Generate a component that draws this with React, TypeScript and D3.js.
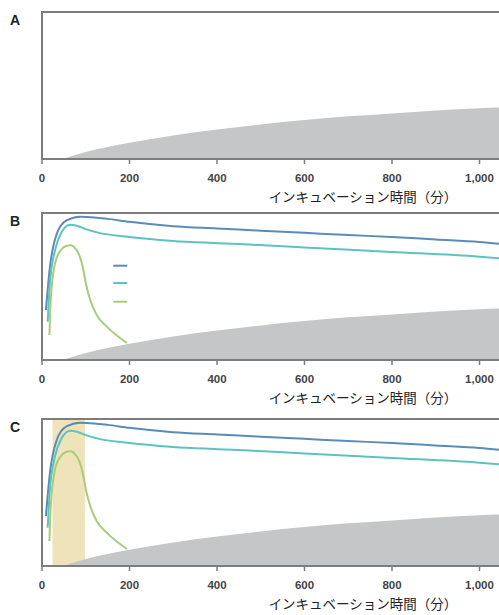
import React from "react";
import * as d3 from "d3";

const xTicks = [0, 200, 400, 600, 800, 1000];
const xTickLabels = ["0", "200", "400", "600", "800", "1,000"];
const panelLabels = ["A", "B", "C"];
const axisTitle = "インキュベーション時間（分）";

const greyT = [48, 60, 80, 100, 150, 200, 300, 400, 500, 600, 700, 800, 900, 1000, 1050];
const greyV = [0, 1.2, 3, 4.8, 8.2, 11, 16, 20, 23.5, 26.5, 29, 31, 33, 34.5, 35];

const blueT = [9, 18, 34, 56, 87, 120, 150, 200, 300, 400, 500, 600, 700, 800, 900, 1000, 1050];
const blueV = [34, 63, 86, 95, 97.5, 97, 96, 94, 91, 89.5, 88, 86.5, 85, 83.7, 82, 80.3, 79];

const tealT = [13, 18, 30, 45, 64, 80, 100, 133, 190, 300, 400, 475, 600, 800, 1000, 1050];
const tealV = [26, 52, 75, 87, 92, 91.3, 89, 86.3, 84, 81, 79.5, 78.5, 76.5, 73.5, 70.3, 69];

const greenT = [17, 20, 30, 44, 55, 66, 76, 85, 93, 101, 110, 125, 148, 194];
const greenV = [17, 41, 66, 75, 77.5, 78, 76, 71.5, 63.5, 51, 41, 30.6, 22.7, 11.6];

const bandRange = [24, 98];

const panels = [
  { top: 12, bottom: 159, lines: false, band: false },
  { top: 213, bottom: 360, lines: true, band: false },
  { top: 419, bottom: 566, lines: true, band: true },
];

const COLORS = { blue: "#5a8db6", teal: "#5cc3c1", green: "#a8cc7c", grey: "#c5c6c8", band: "#efe3b9", frame: "#7d7d7d" };

function zip(t: number[], v: number[]) {
  return t.map((d, i) => [d, v[i]] as [number, number]);
}

export default function App() {
  const x = d3.scaleLinear().domain([0, 1050]).range([42, 42 + 1050 * 0.4375]);
  return (
    <svg width={499} height={615} style={{ position: "absolute", left: 0, top: 0, background: "#fff" }}>
      {panels.map((p, pi) => {
        const y = d3.scaleLinear().domain([0, 100]).range([p.bottom, p.top]);
        const area = d3
          .area<[number, number]>()
          .x((d) => x(d[0]))
          .y0(y(0))
          .y1((d) => y(d[1]))
          .curve(d3.curveMonotoneX);
        const line = d3
          .line<[number, number]>()
          .x((d) => x(d[0]))
          .y((d) => y(d[1]))
          .curve(d3.curveMonotoneX);
        const series = [
          { d: zip(blueT, blueV), c: COLORS.blue },
          { d: zip(tealT, tealV), c: COLORS.teal },
          { d: zip(greenT, greenV), c: COLORS.green },
        ];
        return (
          <g key={pi}>
            {p.band && (
              <rect
                x={x(bandRange[0])}
                y={p.top}
                width={x(bandRange[1]) - x(bandRange[0])}
                height={p.bottom - p.top}
                fill={COLORS.band}
              />
            )}
            <path d={area(zip(greyT, greyV)) || ""} fill={COLORS.grey} />
            {p.lines &&
              series.map((s, si) => (
                <path key={si} d={line(s.d) || ""} fill="none" stroke={s.c} strokeWidth={2} />
              ))}
            {pi === 1 &&
              series.map((s, si) => (
                <line
                  key={"lg" + si}
                  x1={x(163)}
                  x2={x(195)}
                  y1={[265.7, 283, 301.7][si]}
                  y2={[265.7, 283, 301.7][si]}
                  stroke={s.c}
                  strokeWidth={2}
                />
              ))}
            <path
              d={`M${x(1100)},${p.top}H${x(0)}V${p.bottom}H${x(1100)}`}
              fill="none"
              stroke={COLORS.frame}
              strokeWidth={2}
            />
            {xTicks.map((t, ti) => (
              <g key={ti}>
                <line x1={x(t)} x2={x(t)} y1={p.bottom} y2={p.bottom + 5} stroke={COLORS.frame} strokeWidth={1.5} />
                <text
                  x={x(t)}
                  y={p.bottom + 23}
                  textAnchor="middle"
                  fontFamily="'Liberation Sans', Arial, sans-serif"
                  fontWeight="bold"
                  fontSize={11.5}
                  fill="#444"
                >
                  {xTickLabels[ti]}
                </text>
              </g>
            ))}
            <text
              x={363}
              y={p.bottom + 43}
              textAnchor="middle"
              fontFamily="'Noto Sans CJK JP', sans-serif"
              fontSize={13.5}
              fill="#222"
            >
              {axisTitle}
            </text>
            <text
              x={10}
              y={p.top + 13}
              fontFamily="'Liberation Sans', Arial, sans-serif"
              fontWeight="bold"
              fontSize={14}
              fill="#222"
            >
              {panelLabels[pi]}
            </text>
          </g>
        );
      })}
    </svg>
  );
}
